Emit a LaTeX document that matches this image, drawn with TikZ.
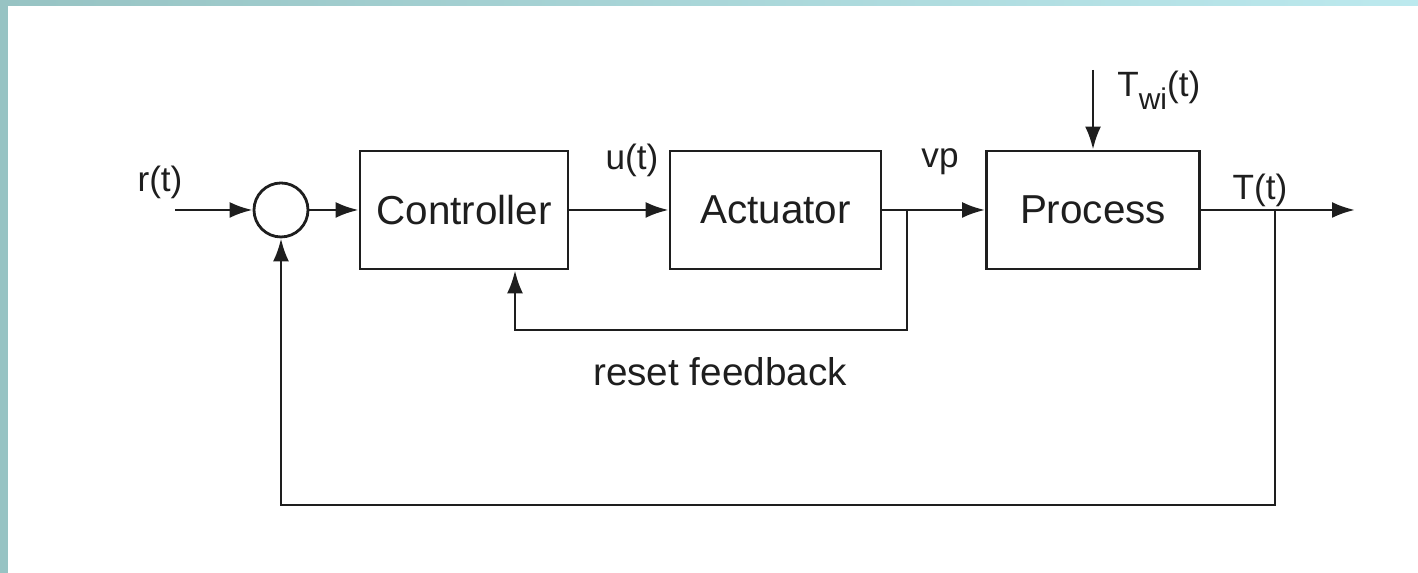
\documentclass[tikz,border=0pt]{standalone}
\usepackage{fontspec}
\setmainfont{Liberation Sans}
\usetikzlibrary{positioning}
\usetikzlibrary{arrows.meta}

\definecolor{bandteal}{HTML}{97C3C3}
\definecolor{bandlight}{HTML}{BCE9EE}
\definecolor{ink}{HTML}{1E1E1E}

\begin{document}
\begin{tikzpicture}[
  blockbox/.style={draw=ink, line width=0.8pt, minimum width=2.1cm, minimum height=1.18cm, text=ink, font=\fontsize{11.5}{13}\selectfont},
  sumnode/.style={draw=ink, circle, line width=0.8pt, minimum size=0.54cm, inner sep=0pt},
  signal/.style={text=ink, font=\fontsize{10}{12}\selectfont},
  link/.style={draw=ink, line width=0.8pt},
  wire/.style={link, -{Latex[length=2.3mm,width=1.6mm]}}
]

% page frame
\useasboundingbox (0,0) rectangle (14.18,5.73);
\fill[bandteal] (0,0) rectangle (0.08,5.73);
\shade[left color=bandteal, right color=bandlight] (0,5.67) rectangle (14.18,5.73);

% summing junction and blocks
\node[sumnode] (sum) at (2.81,3.63) {};
\node[blockbox, minimum width=2.08cm] (ctrl) at (4.64,3.63) {Controller};
\node[blockbox, minimum width=2.11cm] (act) at (7.755,3.63) {Actuator};
\node[blockbox, minimum width=2.13cm] (proc) at (10.93,3.63) {Process};

% free ends and branch points
\coordinate (rin) at (1.75,3.63);
\coordinate (vpbranch) at (9.07,3.63);
\coordinate (resetcorner) at (5.15,2.43);
\coordinate (tbranch) at (12.75,3.63);
\coordinate (tout) at (13.55,3.63);
\coordinate (fbcorner) at (12.75,0.68);
\coordinate (twin) at (10.93,5.03);

% forward path
\draw[wire] (rin) -- (sum);
\draw[wire] (sum) -- (ctrl);
\draw[wire] (ctrl) -- (act);
\draw[link] (act) -- (vpbranch);
\draw[wire] (vpbranch) -- (proc);
\draw[link] (proc) -- (tbranch);
\draw[wire] (tbranch) -- (tout);
\draw[wire] (twin) -- (proc);

% reset feedback and main feedback
\draw[wire] (vpbranch) |- (resetcorner) -- (resetcorner |- ctrl.south);
\draw[wire] (tbranch) -- (fbcorner) -| (sum.south);

% signal labels
\node[signal] (rlabel) at (1.60,3.91) {r(t)};
\node[signal] (ulabel) at (6.32,4.13) {u(t)};
\node[signal] (vplabel) at (9.40,4.11) {vp};
\node[signal] (tlabel) at (12.60,3.83) {T(t)};
\node[signal, anchor=west] (twlabel) at (11.05,4.83) {T\raisebox{-0.7ex}{\fontsize{8.5}{9}\selectfont wi}(t)};
\node[blockbox, draw=none, font=\fontsize{11}{13}\selectfont] (resetlabel) at (7.20,2.01) {reset feedback};

\end{tikzpicture}
\end{document}
